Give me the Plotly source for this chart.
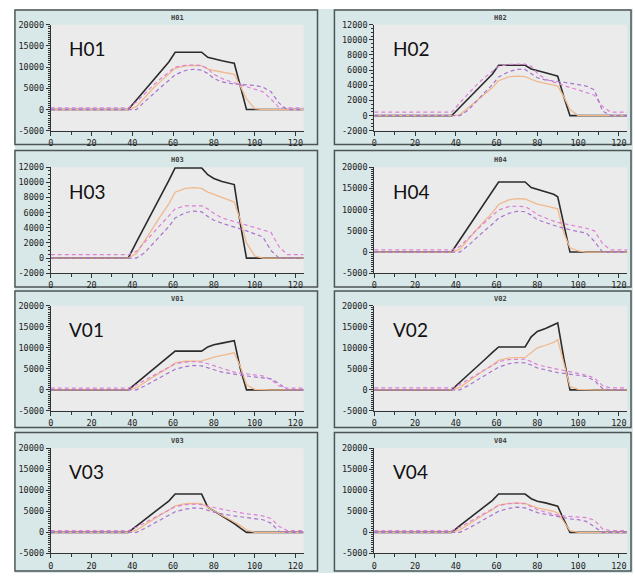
import plotly.graph_objects as go

# ---------------- data ----------------
PANELS = ["H01", "H02", "H03", "H04", "V01", "V02", "V03", "V04"]

X = [0, 38, 42, 46, 50, 54, 58, 61, 66, 70, 74, 77, 80, 84, 88, 90, 93, 96, 100, 104, 108, 112, 116, 124]

H01_BLACK = [0, 0, 2250, 4500, 6750, 9000, 11250, 13500, 13500, 13500, 13500, 12300, 11900, 11500, 11100, 10900, 5500, 0, 0, 0, 0, 0, 0, 0]
H01_ORANGE = [0, 0, 700, 2900, 4900, 6700, 8400, 9700, 10300, 10400, 10300, 9600, 9200, 8900, 8600, 8300, 5500, 2500, 200, 0, 0, 0, 0, 0]
H01_PINK = [400, 400, 1800, 3800, 5600, 7300, 8900, 10000, 10400, 10500, 10400, 9600, 8300, 7300, 6600, 6300, 5800, 5300, 4800, 4200, 2500, 400, 400, 400]
H01_PURPLE = [0, 0, 0, 1800, 3600, 5300, 6900, 8200, 9200, 9500, 9300, 8500, 7300, 6500, 6200, 6000, 5900, 5800, 5700, 5300, 4200, 1500, 0, 0]

H02_BLACK = [0, 0, 1100, 2200, 3300, 4400, 5500, 6650, 6650, 6650, 6650, 6150, 5900, 5650, 5350, 5200, 2500, 0, 0, 0, 0, 0, 0, 0]
H02_ORANGE = [0, 0, 100, 1000, 1900, 2800, 3700, 4600, 5100, 5200, 5150, 4800, 4500, 4250, 4050, 3900, 2500, 800, 0, 0, 0, 0, 0, 0]
H02_PINK = [450, 450, 1700, 2900, 4000, 5000, 5900, 6500, 6750, 6800, 6800, 6500, 5600, 4800, 4400, 4200, 4000, 3700, 3400, 3100, 2700, 1200, 450, 450]
H02_PURPLE = [0, 0, 0, 700, 1900, 3000, 4100, 5100, 5800, 6100, 6100, 5600, 5000, 4700, 4500, 4500, 4400, 4300, 4100, 3900, 3400, 600, 0, 0]

H03_BLACK = [0, 0, 2100, 4100, 6200, 8300, 10300, 11900, 11900, 11900, 11900, 11000, 10500, 10100, 9800, 9700, 4500, 0, 0, 0, 0, 0, 0, 0]
H03_ORANGE = [0, 0, 600, 2300, 4000, 5600, 7200, 8700, 9200, 9300, 9200, 8700, 8400, 8000, 7700, 7400, 5000, 2000, 300, 0, 0, 0, 0, 0]
H03_PINK = [450, 450, 900, 2100, 3300, 4500, 5600, 6500, 6900, 6900, 6900, 6500, 5900, 5300, 5000, 4800, 4600, 4300, 4000, 3700, 3400, 1500, 450, 450]
H03_PURPLE = [0, 0, 0, 700, 1900, 3100, 4200, 5300, 6000, 6200, 6100, 5500, 5000, 4600, 4300, 4100, 3900, 3600, 3200, 2800, 1000, 0, 0, 0]

H04_BLACK = [0, 0, 2900, 5700, 8600, 11500, 14300, 16500, 16500, 16500, 16500, 15200, 14800, 14300, 13600, 13000, 6500, 0, 0, 0, 0, 0, 0, 0]
H04_ORANGE = [0, 0, 700, 3000, 5200, 7300, 9300, 11200, 12300, 12600, 12500, 11900, 11300, 10900, 10500, 10200, 4500, 1000, 300, 0, 0, 0, 0, 0]
H04_PINK = [500, 500, 1300, 3300, 5100, 6900, 8500, 9900, 10700, 10800, 10700, 9900, 8800, 8000, 7300, 7000, 6700, 6400, 6000, 5600, 5000, 2000, 500, 500]
H04_PURPLE = [0, 0, 0, 1500, 3300, 5000, 6600, 8000, 9100, 9600, 9500, 8700, 7600, 6900, 6300, 6000, 5600, 5200, 4800, 4500, 2500, 0, 0, 0]

V01_BLACK = [0, 0, 1600, 3200, 4800, 6400, 8000, 9200, 9200, 9200, 9200, 10200, 10700, 11100, 11500, 11700, 5000, 0, 0, 0, 0, 0, 0, 0]
V01_ORANGE = [0, 0, 500, 1800, 3000, 4200, 5300, 6400, 6800, 6800, 6900, 7300, 7800, 8200, 8600, 8800, 5500, 1200, 100, 0, 0, 0, 0, 0]
V01_PINK = [400, 400, 1200, 2300, 3400, 4400, 5400, 6200, 6600, 6700, 6600, 6200, 5700, 5000, 4500, 4200, 4000, 3900, 3700, 3300, 2500, 900, 400, 400]
V01_PURPLE = [0, 0, 0, 900, 2000, 3000, 4000, 4900, 5500, 5800, 5700, 5200, 4700, 4200, 3900, 3700, 3500, 3300, 3100, 2900, 2600, 1500, 0, 0]

V02_BLACK = [0, 0, 1800, 3500, 5300, 7100, 8900, 10200, 10200, 10200, 10200, 12600, 13900, 14600, 15400, 15900, 7500, 0, 0, 0, 0, 0, 0, 0]
V02_ORANGE = [0, 0, 600, 2000, 3400, 4700, 5900, 7000, 7600, 7700, 7700, 8800, 10000, 10600, 11300, 11900, 6000, 800, 100, 0, 0, 0, 0, 0]
V02_PINK = [450, 450, 1300, 2500, 3600, 4700, 5800, 6700, 7200, 7300, 7300, 6700, 6000, 5500, 5100, 4900, 4600, 4300, 3900, 3500, 2800, 1000, 450, 450]
V02_PURPLE = [0, 0, 0, 1000, 2200, 3300, 4400, 5400, 6200, 6500, 6400, 5900, 5200, 4700, 4300, 4100, 3900, 3700, 3500, 3200, 2200, 300, 0, 0]

V03_BLACK = [0, 0, 1500, 3000, 4500, 6000, 7500, 9100, 9100, 9100, 9100, 6000, 5100, 3900, 2700, 2100, 1000, 0, 0, 0, 0, 0, 0, 0]
V03_ORANGE = [0, 0, 500, 1800, 3000, 4200, 5300, 6300, 6800, 6900, 6800, 5900, 5100, 4000, 3000, 2500, 1600, 600, 0, 0, 0, 0, 0, 0]
V03_PINK = [400, 400, 1200, 2200, 3200, 4200, 5200, 6100, 6600, 6700, 6600, 6200, 5900, 5500, 5100, 4900, 4600, 4400, 4200, 3900, 3300, 1400, 400, 400]
V03_PURPLE = [0, 0, 0, 900, 2000, 3000, 4000, 4900, 5500, 5800, 5700, 5200, 4800, 4400, 4000, 3900, 3700, 3500, 3300, 3000, 2200, 200, 0, 0]

V04_BLACK = [0, 0, 1600, 3100, 4600, 6100, 7600, 9100, 9100, 9100, 9100, 8000, 7400, 7000, 6500, 6200, 3000, 0, 0, 0, 0, 0, 0, 0]
V04_ORANGE = [0, 0, 600, 1900, 3100, 4300, 5400, 6500, 6900, 7000, 6900, 6300, 5800, 5400, 5000, 4600, 2500, 400, 0, 0, 0, 0, 0, 0]
V04_PINK = [400, 400, 1200, 2300, 3400, 4500, 5500, 6400, 6800, 6900, 6800, 6100, 5400, 4800, 4300, 4100, 3900, 3800, 3700, 3500, 2900, 800, 400, 400]
V04_PURPLE = [0, 0, 0, 900, 2000, 3100, 4100, 5000, 5700, 6000, 5800, 5200, 4700, 4300, 4000, 3800, 3500, 3200, 3000, 2600, 1200, 0, 0, 0]

SERIES = {
    "H01": (H01_BLACK, H01_ORANGE, H01_PINK, H01_PURPLE),
    "H02": (H02_BLACK, H02_ORANGE, H02_PINK, H02_PURPLE),
    "H03": (H03_BLACK, H03_ORANGE, H03_PINK, H03_PURPLE),
    "H04": (H04_BLACK, H04_ORANGE, H04_PINK, H04_PURPLE),
    "V01": (V01_BLACK, V01_ORANGE, V01_PINK, V01_PURPLE),
    "V02": (V02_BLACK, V02_ORANGE, V02_PINK, V02_PURPLE),
    "V03": (V03_BLACK, V03_ORANGE, V03_PINK, V03_PURPLE),
    "V04": (V04_BLACK, V04_ORANGE, V04_PINK, V04_PURPLE),
}

X_TICKS = [0, 20, 40, 60, 80, 100, 120]
X_TICK_LABELS = ["0", "20", "40", "60", "80", "100", "120"]
Y_TICKS_BIG = [-5000, 0, 5000, 10000, 15000, 20000]
Y_TICK_LABELS_BIG = ["-5000", "0", "5000", "10000", "15000", "20000"]
Y_TICKS_SMALL = [-2000, 0, 2000, 4000, 6000, 8000, 10000, 12000]
Y_TICK_LABELS_SMALL = ["-2000", "0", "2000", "4000", "6000", "8000", "10000", "12000"]
SMALL_SCALE_PANELS = ["H02", "H03"]

# ---------------- layout geometry (pixels) ----------------
W, H = 635, 579
COL_PLOT_X = [(48, 302), (373, 627)]
ROW_PLOT_Y = [(20, 128), (165, 273), (306, 413), (451, 558)]
COL_BOX_X = [(12, 316), (333, 631)]
ROW_BOX_Y = [(5, 142), (148, 287), (291, 430), (435, 576)]

PANEL_BG = "#d8e7e7"
PLOT_BG = "#ebebeb"
FRAME = "#4d5555"
AX = "#333333"

COLORS = ["#2b2b2b", "#f0b98d", "#de80d6", "#a873cf"]
WIDTHS = [1.6, 1.3, 1.2, 1.2]
DASHES = ["solid", "solid", "4px,3px", "4px,3px"]


def px2x(p):
    return p / W


def px2y(p):
    return 1 - p / H


fig = go.Figure()
shapes = []
annotations = []

# outer light background
shapes.append(dict(type="rect", xref="paper", yref="paper",
                   x0=px2x(12), x1=px2x(633), y0=px2y(578), y1=px2y(4),
                   fillcolor=PANEL_BG, line=dict(width=0), layer="below"))

for i, name in enumerate(PANELS):
    r, c = divmod(i, 2)
    ax_id = "" if i == 0 else str(i + 1)
    xa, ya = "x" + ax_id, "y" + ax_id
    bx0, bx1 = COL_BOX_X[c]
    by0, by1 = ROW_BOX_Y[r]
    shapes.append(dict(type="rect", xref="paper", yref="paper",
                       x0=px2x(bx0), x1=px2x(bx1), y0=px2y(by1), y1=px2y(by0),
                       fillcolor=PANEL_BG, line=dict(color=FRAME, width=1.5), layer="below"))

    for k in range(4):
        fig.add_trace(go.Scatter(
            x=X, y=SERIES[name][k], mode="lines", xaxis=xa, yaxis=ya,
            line=dict(color=COLORS[k], width=WIDTHS[k], dash=DASHES[k]),
            showlegend=False, hoverinfo="skip"))

    small = name in SMALL_SCALE_PANELS
    tv = Y_TICKS_SMALL if small else Y_TICKS_BIG
    tt = Y_TICK_LABELS_SMALL if small else Y_TICK_LABELS_BIG
    px0, px1 = COL_PLOT_X[c]
    py0, py1 = ROW_PLOT_Y[r]

    fig.layout["xaxis" + ax_id] = dict(
        domain=[px2x(px0), px2x(px1)], anchor=ya, range=[0, 124],
        tickmode="array", tickvals=X_TICKS, ticktext=X_TICK_LABELS,
        ticks="outside", ticklen=4, tickcolor=AX, tickwidth=1,
        minor=dict(tickmode="linear", tick0=0, dtick=10, ticks="outside", ticklen=3, tickcolor=AX),
        showline=True, linecolor=AX, linewidth=1, showgrid=False, zeroline=False,
        tickfont=dict(family="DejaVu Sans Mono", size=8.5, color="#222"),
        fixedrange=True)
    fig.layout["yaxis" + ax_id] = dict(
        domain=[px2y(py1), px2y(py0)], anchor=xa, range=[tv[0], tv[-1]],
        tickmode="array", tickvals=tv, ticktext=tt,
        ticks="outside", ticklen=4, tickcolor=AX, tickwidth=1,
        minor=dict(tickmode="linear", tick0=0, dtick=500, ticks="outside", ticklen=2, tickcolor=AX),
        showline=True, linecolor=AX, linewidth=1, showgrid=False, zeroline=False,
        tickfont=dict(family="DejaVu Sans Mono", size=8.5, color="#222"),
        fixedrange=True)

    # plot background
    shapes.append(dict(type="rect", xref="paper", yref="paper",
                       x0=px2x(px0), x1=px2x(px1), y0=px2y(py1), y1=px2y(py0),
                       fillcolor=PLOT_BG, line=dict(width=0), layer="below"))

    # small title
    annotations.append(dict(text="<b>" + name + "</b>", xref=xa + " domain", yref=ya + " domain",
                            x=0.5, y=1, xanchor="center", yanchor="bottom", yshift=1,
                            showarrow=False, font=dict(family="DejaVu Sans Mono", size=7, color="#444")))
    # big label
    annotations.append(dict(text=name, xref=xa + " domain", yref=ya + " domain",
                            x=0.066, y=0.775, xanchor="left", yanchor="middle",
                            showarrow=False, font=dict(family="Lato", size=19, color="#111")))

fig.update_layout(width=W, height=H, margin=dict(l=0, r=0, t=0, b=0),
                  paper_bgcolor="white", plot_bgcolor="rgba(0,0,0,0)",
                  shapes=shapes, annotations=annotations, showlegend=False)

fig.write_html("out.html", config={"displayModeBar": False},
               post_script="document.body.style.margin='0px';document.body.style.overflow='hidden';")
